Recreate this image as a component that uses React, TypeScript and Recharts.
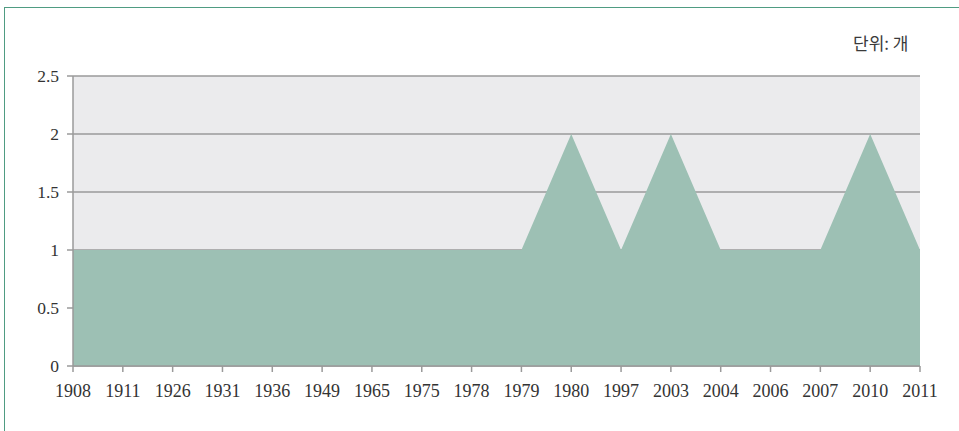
import React from "react";
import { AreaChart, Area, XAxis, YAxis, CartesianGrid } from "recharts";

const years = ["1908","1911","1926","1931","1936","1949","1965","1975","1978","1979","1980","1997","2003","2004","2006","2007","2010","2011"];
const counts = [1,1,1,1,1,1,1,1,1,1,2,1,2,1,1,1,2,1];
const yTicks = [0, 0.5, 1, 1.5, 2, 2.5];
const unitLabel = "단위: 개";

const data = years.map((y, i) => ({ year: y, value: counts[i] }));

const fontFam = "'Liberation Serif', 'DejaVu Serif', serif";
const xTickStyle = { fill: "#333", fontSize: 18, fontFamily: fontFam };
const yTickStyle = { fill: "#333", fontSize: 17.5, fontFamily: fontFam };

export default function App() {
  return (
    <div style={{ position: "absolute", left: 0, top: 0, width: 959, height: 431, background: "#fff", overflow: "hidden" }}>
      <div style={{ position: "absolute", left: 4, top: 7, width: 1000, height: 500, borderLeft: "1.5px solid #4f9c82", borderTop: "1.5px solid #4f9c82" }} />
      <div style={{ position: "absolute", left: 853, top: 34, fontSize: 17, lineHeight: "17px", color: "#3a3a3a", fontFamily: "'Noto Sans CJK KR', sans-serif", whiteSpace: "nowrap" }}>{unitLabel}</div>
      <div style={{ position: "absolute", left: 0, top: 0 }}>
        <AreaChart width={959} height={431} data={data} margin={{ top: 76, right: 39, bottom: 25, left: 13 }}>
          <CartesianGrid vertical={false} fill="#ebebed" stroke="#9a9a9a" strokeWidth={1.5} />
          <XAxis
            dataKey="year"
            interval={0}
            height={40}
            tick={xTickStyle}
            tickSize={6}
            tickMargin={12}
            stroke="#9a9a9a"
            strokeWidth={1.5}
          />
          <YAxis
            domain={[0, 2.5]}
            ticks={yTicks}
            width={60}
            tick={yTickStyle}
            tickSize={6}
            tickMargin={8}
            stroke="#9a9a9a"
            strokeWidth={1.5}
            allowDecimals
          />
          <Area type="linear" dataKey="value" stroke="none" fill="#9dc0b4" fillOpacity={1} isAnimationActive={false} />
        </AreaChart>
      </div>
    </div>
  );
}
